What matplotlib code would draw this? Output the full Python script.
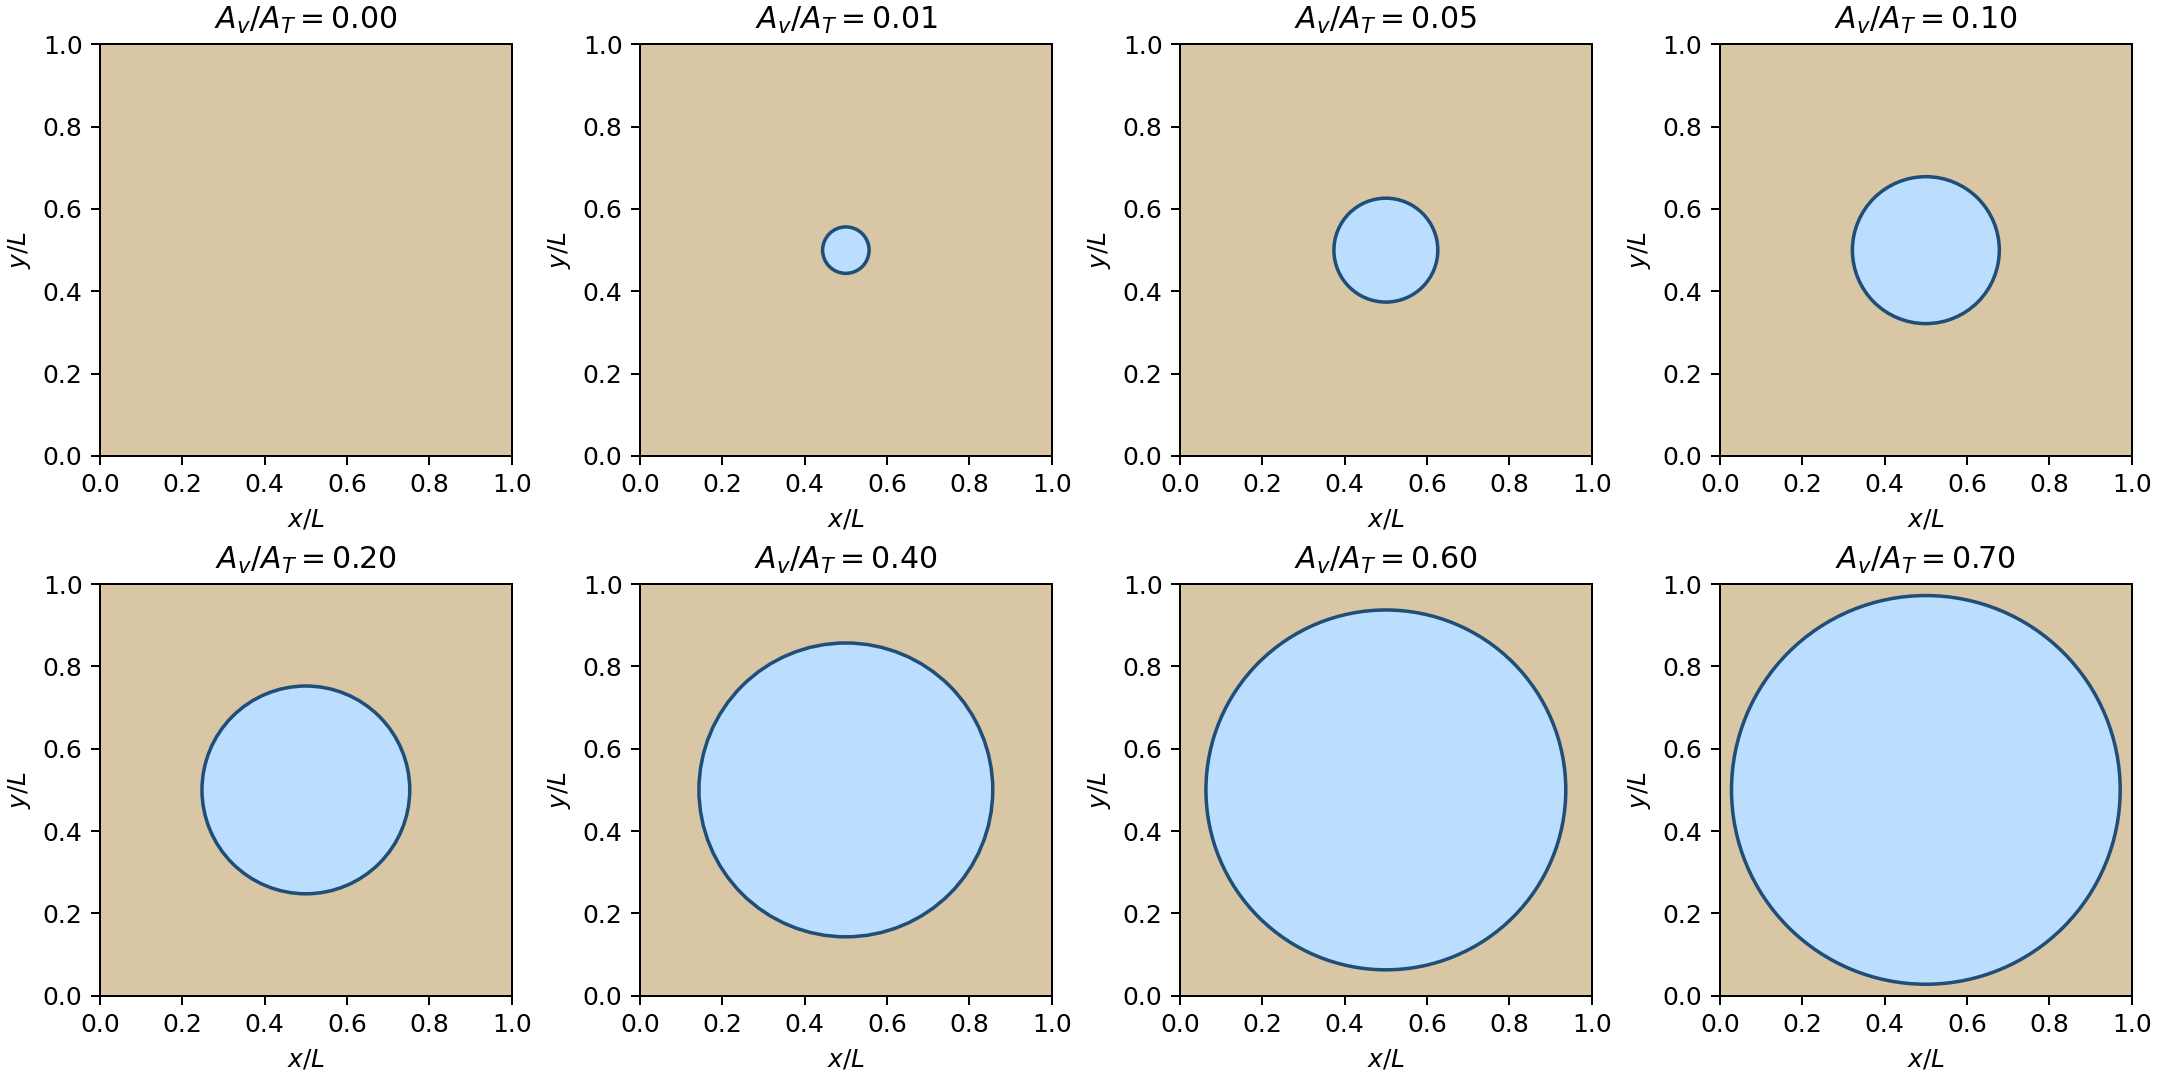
import numpy as np
import matplotlib
matplotlib.use('Agg')
import matplotlib.pyplot as plt
from matplotlib.patches import Circle, Rectangle

# void area fractions shown in each panel
fractions = [0.00, 0.01, 0.05, 0.10, 0.20, 0.40, 0.60, 0.70]
center = (0.5, 0.5)
ticks = [0.0, 0.2, 0.4, 0.6, 0.8, 1.0]

matrix_color = '#d9c6a5'
void_color = '#bbddfe'
edge_color = '#1f4e79'

fig, axes = plt.subplots(2, 4, figsize=(12, 6), dpi=180)
fig.subplots_adjust(left=0.0463, right=0.9869, top=0.959, bottom=0.078,
                    wspace=0.3116, hspace=0.311)

for ax, frac in zip(axes.flat, fractions):
    ax.add_patch(Rectangle((0, 0), 1, 1, facecolor=matrix_color, edgecolor='none'))
    if frac > 0:
        # circle radius from area fraction (unit square)
        r = np.sqrt(frac / np.pi)
        ax.add_patch(Circle(center, r, facecolor=void_color, edgecolor=edge_color, lw=1.4))
    ax.set_xlim(0, 1)
    ax.set_ylim(0, 1)
    ax.set_xticks(ticks)
    ax.set_yticks(ticks)
    ax.set_aspect('equal')
    ax.set_xlabel('$x/L$')
    ax.set_ylabel('$y/L$')
    ax.set_title('$A_v/A_T = %.2f$' % frac)

plt.savefig('out.png')
